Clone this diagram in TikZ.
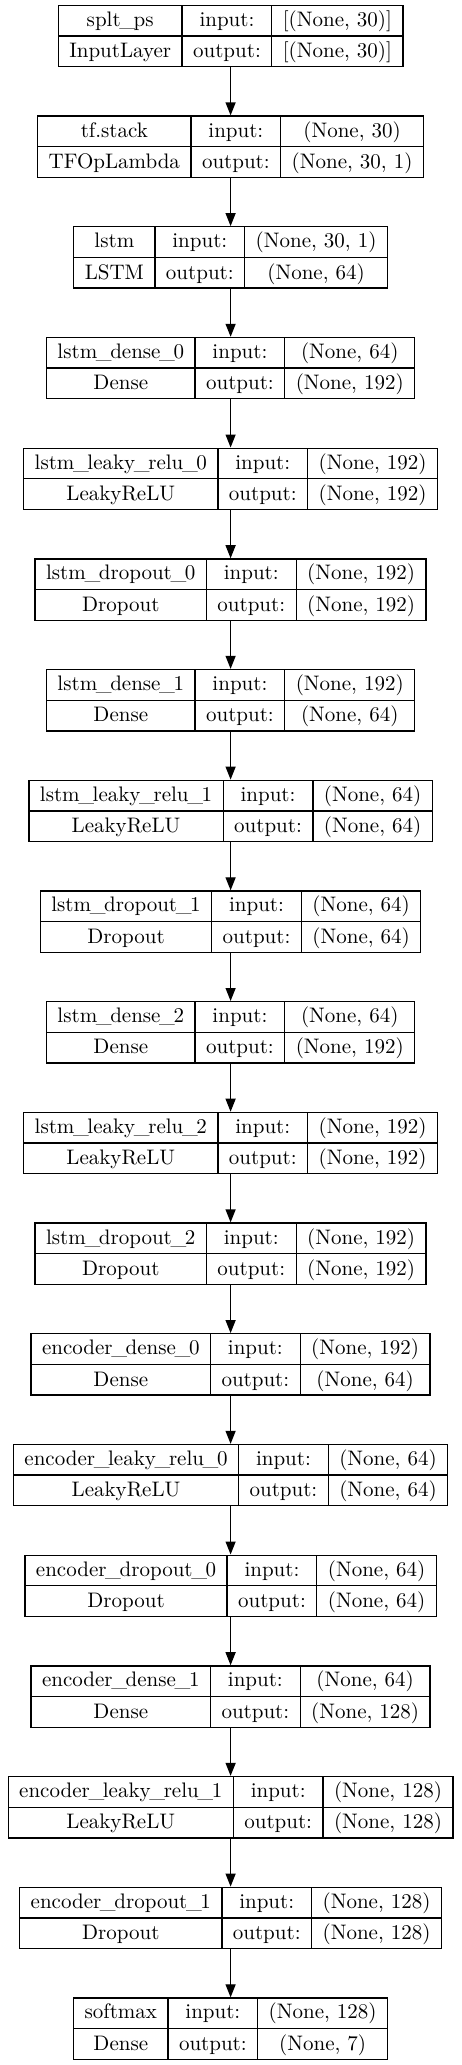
\documentclass[tikz,border=0pt]{standalone}
\usepackage{fontspec}
\usetikzlibrary{arrows.meta}
\newfontfamily\kerasfont{lmroman10-regular.otf}
\setlength{\tabcolsep}{11pt}
\setlength{\arrayrulewidth}{1.3pt}
\newcommand{\us}{\makebox[0.62em]{\_}}
\newcommand{\keraslayer}[4]{\begin{tabular}{c|c|c}#1 & input: & #3\\\hline #2 & output: & #4\end{tabular}}
\begin{document}
\begin{tikzpicture}[x=1pt, y=1pt,
			layer/.style={draw, line width=1.3pt, inner sep=0pt, font=\kerasfont\fontsize{21}{30}\selectfont},
			flow/.style={-{Triangle[length=13pt, width=10pt]}, line width=1.3pt}]

		\useasboundingbox (0,0) rectangle (461,-2065);

		\node[layer] (inp) at (230.6, -36) {\keraslayer{splt\us ps}{InputLayer}{[(None, 30)]}{[(None, 30)]}};
		\node[layer] (stack) at (230.6, -146.7) {\keraslayer{tf.stack}{TFOpLambda}{(None, 30)}{(None, 30, 1)}};
		\node[layer] (lstm) at (230.6, -257.4) {\keraslayer{lstm}{LSTM}{(None, 30, 1)}{(None, 64)}};
		\node[layer] (ldense0) at (230.6, -368.1) {\keraslayer{lstm\us dense\us 0}{Dense}{(None, 64)}{(None, 192)}};
		\node[layer] (lrelu0) at (230.6, -478.8) {\keraslayer{lstm\us leaky\us relu\us 0}{LeakyReLU}{(None, 192)}{(None, 192)}};
		\node[layer] (ldrop0) at (230.6, -589.5) {\keraslayer{lstm\us dropout\us 0}{Dropout}{(None, 192)}{(None, 192)}};
		\node[layer] (ldense1) at (230.6, -700.2) {\keraslayer{lstm\us dense\us 1}{Dense}{(None, 192)}{(None, 64)}};
		\node[layer] (lrelu1) at (230.6, -810.9) {\keraslayer{lstm\us leaky\us relu\us 1}{LeakyReLU}{(None, 64)}{(None, 64)}};
		\node[layer] (ldrop1) at (230.6, -921.6) {\keraslayer{lstm\us dropout\us 1}{Dropout}{(None, 64)}{(None, 64)}};
		\node[layer] (ldense2) at (230.6, -1032.3) {\keraslayer{lstm\us dense\us 2}{Dense}{(None, 64)}{(None, 192)}};
		\node[layer] (lrelu2) at (230.6, -1143) {\keraslayer{lstm\us leaky\us relu\us 2}{LeakyReLU}{(None, 192)}{(None, 192)}};
		\node[layer] (ldrop2) at (230.6, -1253.7) {\keraslayer{lstm\us dropout\us 2}{Dropout}{(None, 192)}{(None, 192)}};
		\node[layer] (edense0) at (230.6, -1364.4) {\keraslayer{encoder\us dense\us 0}{Dense}{(None, 192)}{(None, 64)}};
		\node[layer] (erelu0) at (230.6, -1475.1) {\keraslayer{encoder\us leaky\us relu\us 0}{LeakyReLU}{(None, 64)}{(None, 64)}};
		\node[layer] (edrop0) at (230.6, -1585.8) {\keraslayer{encoder\us dropout\us 0}{Dropout}{(None, 64)}{(None, 64)}};
		\node[layer] (edense1) at (230.6, -1696.5) {\keraslayer{encoder\us dense\us 1}{Dense}{(None, 64)}{(None, 128)}};
		\node[layer] (erelu1) at (230.6, -1807.2) {\keraslayer{encoder\us leaky\us relu\us 1}{LeakyReLU}{(None, 128)}{(None, 128)}};
		\node[layer] (edrop1) at (230.6, -1917.9) {\keraslayer{encoder\us dropout\us 1}{Dropout}{(None, 128)}{(None, 128)}};
		\node[layer] (softmax) at (230.6, -2028.6) {\keraslayer{softmax}{Dense}{(None, 128)}{(None, 7)}};

		\draw[flow] (inp) -- (stack);
		\draw[flow] (stack) -- (lstm);
		\draw[flow] (lstm) -- (ldense0);
		\draw[flow] (ldense0) -- (lrelu0);
		\draw[flow] (lrelu0) -- (ldrop0);
		\draw[flow] (ldrop0) -- (ldense1);
		\draw[flow] (ldense1) -- (lrelu1);
		\draw[flow] (lrelu1) -- (ldrop1);
		\draw[flow] (ldrop1) -- (ldense2);
		\draw[flow] (ldense2) -- (lrelu2);
		\draw[flow] (lrelu2) -- (ldrop2);
		\draw[flow] (ldrop2) -- (edense0);
		\draw[flow] (edense0) -- (erelu0);
		\draw[flow] (erelu0) -- (edrop0);
		\draw[flow] (edrop0) -- (edense1);
		\draw[flow] (edense1) -- (erelu1);
		\draw[flow] (erelu1) -- (edrop1);
		\draw[flow] (edrop1) -- (softmax);
	\end{tikzpicture}
\end{document}
